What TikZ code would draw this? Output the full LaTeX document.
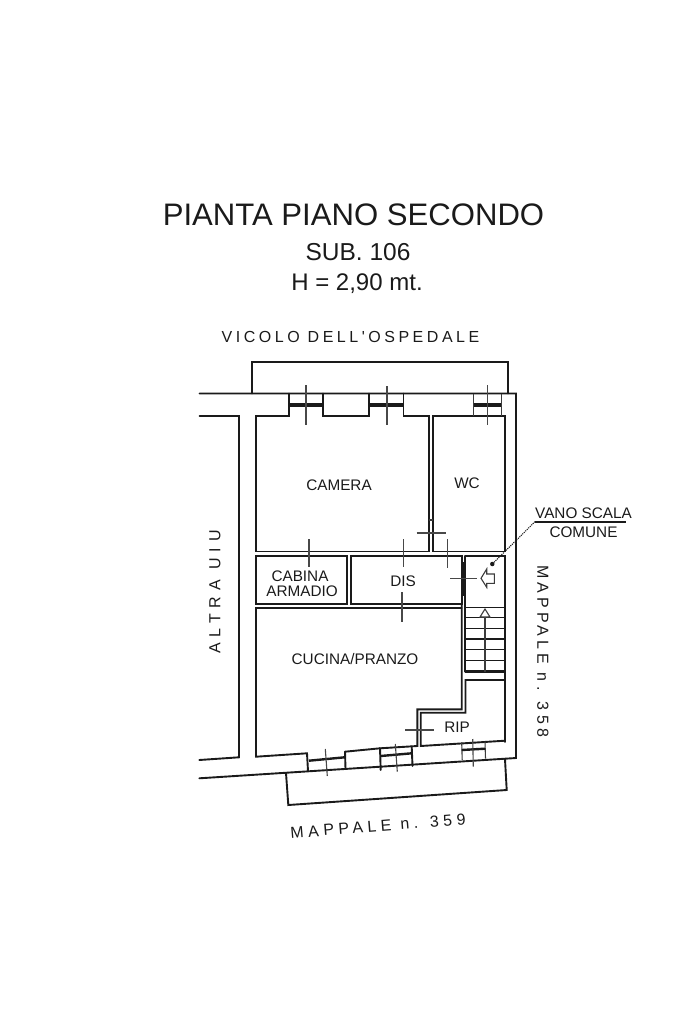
\documentclass[tikz,border=0pt]{standalone}
\usepackage{fontspec}
\setmainfont{Liberation Sans}
\newfontfamily\spaced[LetterSpace=22]{Liberation Sans}
\newfontfamily\spacedb[LetterSpace=26]{Liberation Sans}
\newfontfamily\spacedd[LetterSpace=28]{Liberation Sans}
\newfontfamily\spacedc[LetterSpace=37]{Liberation Sans}
\definecolor{ink}{HTML}{1A1A1A}
\tikzset{
  wall/.style={draw=ink,line width=1.9pt,line cap=round,line join=miter},
  thin wall/.style={draw=ink!85,line width=1.1pt},
  glass/.style={draw=ink,line width=3.3pt},
  low glass/.style={draw=ink,line width=2.4pt},
  tick/.style={draw=ink!80,line width=1.1pt},
  riser/.style={draw=ink,line width=1.5pt},
  room/.style={text=ink,inner sep=0pt,font=\fontsize{15.3}{15.3}\selectfont},
  title/.style={text=ink,inner sep=0pt},
  street/.style={text=ink,inner sep=0pt,font=\spaced\fontsize{16}{16}\selectfont},
  streetb/.style={text=ink,inner sep=0pt,font=\spacedb\fontsize{16}{16}\selectfont},
  streetd/.style={text=ink,inner sep=0pt,font=\spacedd\fontsize{16}{16}\selectfont},
  streetc/.style={text=ink,inner sep=0pt,font=\spacedc\fontsize{16}{16}\selectfont},
}
\begin{document}
\begin{tikzpicture}[x=1pt,y=-1pt]
\useasboundingbox (0,0) rectangle (683,1025);
% titles
\node[title,font=\fontsize{31.1}{31.1}\selectfont] (t1) at (353.5,215) {PIANTA PIANO SECONDO};
\node[title,font=\fontsize{24.5}{24.5}\selectfont] (t2) at (358,252) {SUB. 106};
\node[title,font=\fontsize{24}{24}\selectfont] (t3) at (357,284) {H = 2,90 mt.};
% street labels
\node[street] (vicolo) at (350.5,337) {VICOLO DELL'OSPEDALE};
\node[streetc,rotate=90] (altra) at (215,592) {ALTRA UIU};
\node[streetb,rotate=-90] (m358) at (543,651) {MAPPALE n. 358};
\node[streetd,rotate=4.6] (m359) at (378,826) {MAPPALE n. 359};
% balcony top
\draw[wall] (251.7,393.5) -- (251.7,362.3) -- (507.7,362.3) -- (507.7,393.5);
% outer top and right
\draw[wall] (199.5,393.5) -- (516,393.5) -- (516,758) -- (199.3,778.3);
% left passage
\draw[wall] (199.5,416) -- (239,416) -- (239,757.3) -- (199.3,760);
% balcony bottom
\draw[wall] (286,773) -- (288.3,805) -- (506.7,790) -- (505,759.3);
% camera outline with window notches
\draw[wall] (289,393.5) -- (289,416) -- (256.3,416) -- (256.3,551.5) -- (429,551.5) -- (429,416) -- (403.5,416) -- (403.5,393.5);
\draw[wall] (322.7,393.5) -- (322.7,416) -- (369.3,416) -- (369.3,393.5);
% wc
\draw[wall] (473.7,416) -- (432.7,416) -- (432.7,551.5) -- (504.7,551.5) -- (504.7,416) -- (473.7,416);
\draw[thin wall] (473.7,393.5) -- (473.7,416) (501.3,393.5) -- (501.3,416);
\draw[thin wall] (429,520) -- (432.7,520);
% windows top
\draw[glass] (289,405) -- (322.7,405);
\draw[glass] (369.3,405) -- (403.5,405);
\draw[glass] (473.7,405) -- (501.3,405);
% cabina + dis
\draw[wall] (256,556) rectangle (346.7,604);
\draw[wall] (351,556) rectangle (461.7,604);
% cucina
\draw[wall] (461.7,604) -- (461.7,709.3) -- (417.3,709.3) -- (417.3,746) -- (380,748.3) -- (380.7,770);
\draw[wall] (461.7,608) -- (256,608) -- (256,756.7) -- (307,753.3) -- (308,771);
\draw[wall] (345,751.7) -- (380,748.3);
\draw[wall] (345,751.7) -- (345.5,769);
\draw[wall] (411.7,746.5) -- (412.5,766);
% vano + stairs
\draw[wall] (465.3,556) -- (465.3,671.7);
\draw[wall] (465.3,556) -- (504.7,556) -- (504.7,742);
\draw[line width=2.6pt,draw=ink] (463.5,562) -- (463.5,596);
\draw[riser] (465.3,607.3) -- (504.7,607.3);
\draw[riser] (465.3,617.7) -- (504.7,617.7);
\draw[riser] (465.3,628.3) -- (504.7,628.3);
\draw[riser] (465.3,639) -- (504.7,639);
\draw[riser] (465.3,649.3) -- (504.7,649.3);
\draw[riser] (465.3,660.7) -- (504.7,660.7);
\draw[line width=2.8pt,draw=ink] (465.3,671.7) -- (504.7,671.7);
\draw[thin wall] (485,671.7) -- (485,613);
\draw[thin wall,fill=white] (480,617) -- (485,609) -- (490,617) -- cycle;
% rip
\draw[wall] (504.7,680) -- (465.5,680) -- (465.5,712.7) -- (420.7,712.7) -- (420.7,746) -- (505,740.7);
\draw[thin wall] (461.7,742.3) -- (462.2,759.8) (485,741.5) -- (485.5,758.6);
% lower windows
\draw[low glass] (309,760.7) -- (344.7,757.3);
\draw[low glass] (380.7,756) -- (411.7,753.3);
\draw[low glass] (461.7,750) -- (485,748.7);
% ticks
\draw[tick] (306,385) -- (306,425);
\draw[tick] (387,386) -- (387,425);
\draw[tick] (487.3,385) -- (487.3,425);
\draw[tick] (416.7,533) -- (445.7,533);
\draw[tick] (309,539) -- (309,567);
\draw[tick] (403.3,539) -- (403.3,567);
\draw[tick] (447.3,539) -- (447.3,568);
\draw[tick] (402,592) -- (402,622);
\draw[tick] (450,578.3) -- (477.3,578.3);
\draw[tick] (325.3,749) -- (327.3,776);
\draw[tick] (395.3,744) -- (397.3,771.7);
\draw[tick] (472.7,739) -- (473.3,766.7);
\draw[tick] (405,730) -- (434,730);
% hollow arrow
\draw[thin wall,fill=white] (481,578.3) -- (486.7,569) -- (486.7,574) -- (494.3,574) -- (494.3,583.3) -- (486.7,583.3) -- (486.7,587.3) -- cycle;
% rooms
\node[room] (camera) at (339,485) {CAMERA};
\node[room] (wc) at (467,483) {WC};
\node[room] (cabina) at (300,576) {CABINA};
\node[room] (armadio) at (302,591.5) {ARMADIO};
\node[room] (dis) at (403,581) {DIS};
\node[room] (cucina) at (355,659) {CUCINA/PRANZO};
\node[room] (rip) at (457,727) {RIP};
% leader
\node[room] (vano) at (583.5,513.5) {VANO SCALA};
\node[room] (comune) at (583.5,532.5) {COMUNE};
\coordinate (elbow) at (535,521.7);
\coordinate (lend) at (625.7,521.7);
\node[circle,fill=ink,inner sep=0pt,minimum size=4.5pt] (dot) at (492.3,564) {};
\draw[line width=1.7pt,draw=ink] (elbow) -- (lend);
\draw[line width=1.1pt,draw=ink,densely dotted] (dot) -- (elbow);
\end{tikzpicture}
\end{document}
